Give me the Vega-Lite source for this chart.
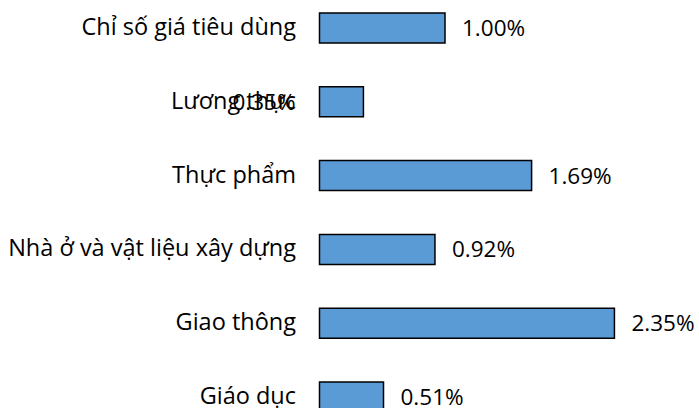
{
  "$schema": "https://vega.github.io/schema/vega-lite/v6.json",
  "autosize": {"type": "none"},
  "padding": {"left": 319.5, "top": 0, "right": 0, "bottom": 0},
  "width": 376.5,
  "height": 425,
  "background": "white",
  "config": {
    "view": {"stroke": null},
    "font": "Open Sans"
  },
  "data": {
    "values": [
      {"category": "Chỉ số giá tiêu dùng", "value": 0.0100},
      {"category": "Lương thực", "value": 0.0035},
      {"category": "Thực phẩm", "value": 0.0169},
      {"category": "Nhà ở và vật liệu xây dựng", "value": 0.0092},
      {"category": "Giao thông", "value": 0.0235},
      {"category": "Giáo dục", "value": 0.0051}
    ]
  },
  "encoding": {
    "y": {
      "field": "category",
      "type": "nominal",
      "sort": null,
      "scale": {"paddingInner": 0.594, "paddingOuter": 0.176},
      "axis": {
        "title": null,
        "domain": false,
        "ticks": false,
        "labelPadding": 24,
        "labelLimit": 0,
        "labelFont": "Open Sans",
        "labelFontSize": 23.5,
        "labelColor": "#000000"
      }
    }
  },
  "layer": [
    {
      "mark": {"type": "bar", "fill": "#5B9BD5", "stroke": "#000000", "strokeWidth": 1.5},
      "encoding": {
        "x": {
          "field": "value",
          "type": "quantitative",
          "scale": {"domain": [0, 0.03], "nice": false},
          "axis": null
        }
      }
    },
    {
      "transform": [{"filter": "datum.value >= 0.004"}],
      "mark": {"type": "text", "align": "left", "baseline": "middle", "dx": 17, "dy": 1, "fontSize": 22.5, "font": "Open Sans", "color": "#000000"},
      "encoding": {
        "x": {"field": "value", "type": "quantitative"},
        "text": {"field": "value", "type": "quantitative", "format": ".2%"}
      }
    },
    {
      "transform": [{"filter": "datum.value < 0.004"}],
      "mark": {"type": "text", "align": "right", "baseline": "middle", "dx": -24, "dy": 1, "fontSize": 22.5, "font": "Open Sans", "color": "#000000"},
      "encoding": {
        "x": {"datum": 0, "type": "quantitative"},
        "text": {"field": "value", "type": "quantitative", "format": ".2%"}
      }
    }
  ]
}
